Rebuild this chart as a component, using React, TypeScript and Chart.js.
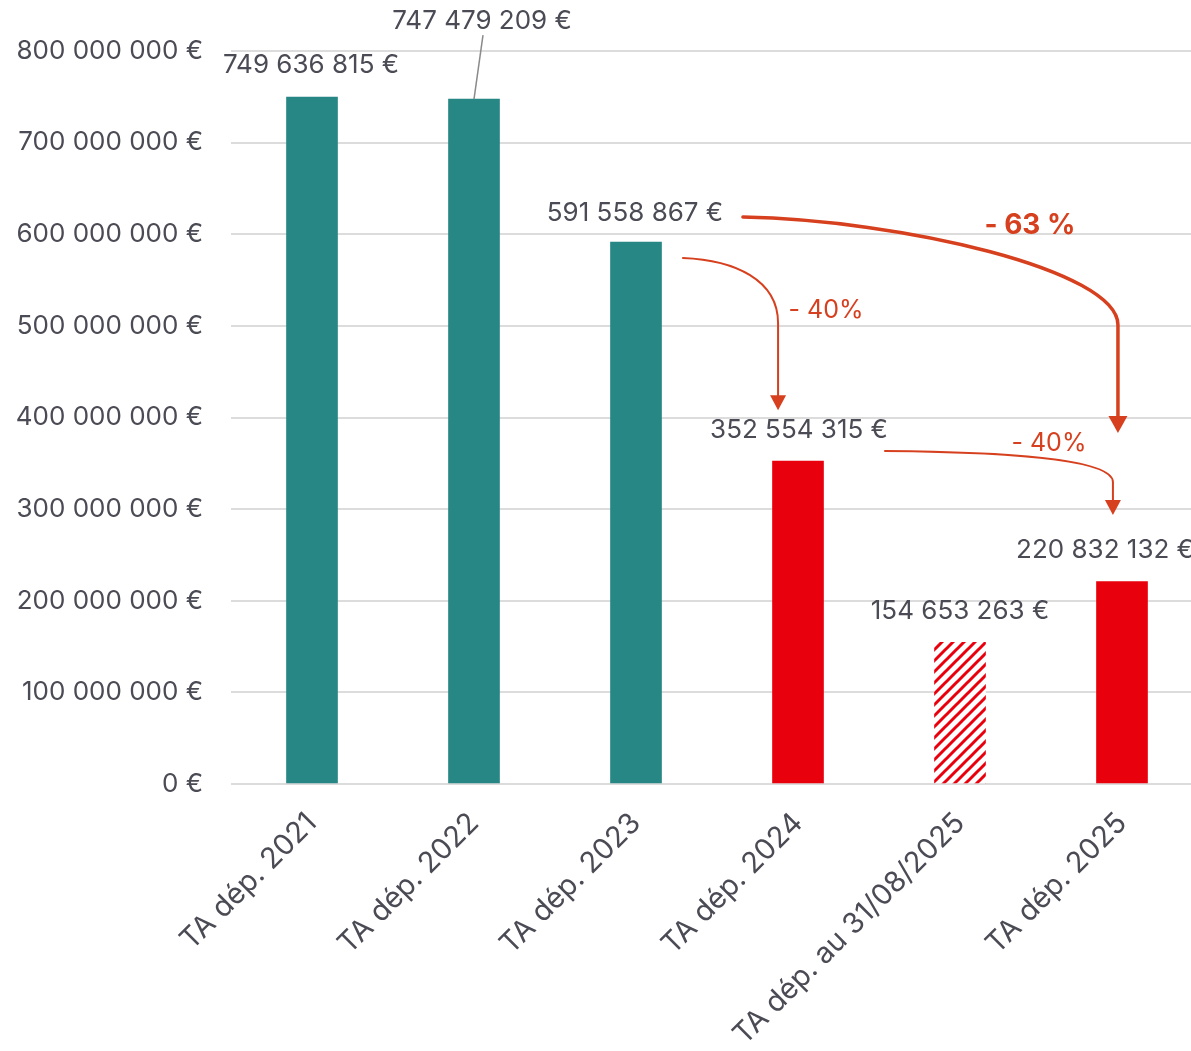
import React, { useEffect, useRef } from 'react';
import { Chart, registerables } from 'chart.js';

Chart.register(...registerables);

// ---------- data ----------
const categories = [
  'TA dép. 2021',
  'TA dép. 2022',
  'TA dép. 2023',
  'TA dép. 2024',
  'TA dép. au 31/08/2025',
  'TA dép. 2025',
];
const values = [749636815, 747479209, 591558867, 352554315, 154653263, 220832132];
const barKinds = ['teal', 'teal', 'teal', 'red', 'hatched', 'red'];
const yMin = 0;
const yMax = 800000000;
const yStep = 100000000;
const changeLabels = ['- 40%', '- 63 %', '- 40%'];

// ---------- styling / annotation config ----------
const FONT = 'Inter, "Liberation Sans", Arial, sans-serif';
const TEXT = '#4b4b55';
const TEAL = '#278784';
const RED = '#E8000D';
const ARROW = '#D6401E';
const GRID = '#dcdcdc';

// label offsets in px relative to (bar centre, bar top)
const labelOffsets = [
  [-1, -32],
  [8, -78],
  [-1, -29],
  [1, -31],
  [0, -31],
  [-17, -31],
];

// arrows expressed in (category index, value) coordinates
const arrows = [
  {
    from: [2.29, 574.1e6], c1: [2.611, 571.9e6], c2: [2.877, 550e6], to: [2.877, 503e6],
    tip: 408e6, lw: 2, hw: 16, hh: 15, text: changeLabels[0], at: [3.173, 517e6], bold: false, size: 25,
  },
  {
    from: [2.66, 618.8e6], c1: [3.63, 615.6e6], c2: [4.975, 561e6], to: [4.975, 501e6],
    tip: 383e6, lw: 3.5, hw: 19, hh: 17, text: changeLabels[1], at: [4.432, 610e6], bold: true, size: 28,
  },
  {
    from: [3.537, 363.4e6], c1: [4.247, 362.3e6], c2: [4.944, 355.8e6], to: [4.944, 329.6e6],
    tip: 293.6e6, lw: 2, hw: 16, hh: 15, text: changeLabels[2], at: [4.549, 372e6], bold: false, size: 25,
  },
];

const fmt = (v: number) => String(Math.round(v)).replace(/\B(?=(\d{3})+(?!\d))/g, ' ') + ' €';

function makeHatch(): CanvasPattern | string {
  const s = 11;
  const c = document.createElement('canvas');
  c.width = s;
  c.height = s;
  const g = c.getContext('2d');
  if (!g) return RED;
  g.fillStyle = '#ffffff';
  g.fillRect(0, 0, s, s);
  g.strokeStyle = RED;
  g.lineWidth = 3;
  g.beginPath();
  g.moveTo(0, s);
  g.lineTo(s, 0);
  g.moveTo(-2, 2);
  g.lineTo(2, -2);
  g.moveTo(s - 2, s + 2);
  g.lineTo(s + 2, s - 2);
  g.stroke();
  return g.createPattern(c, 'repeat') || RED;
}

const overlayPlugin = {
  id: 'overlay',
  afterDatasetsDraw(chart: any) {
    const ctx: CanvasRenderingContext2D = chart.ctx;
    const xs = chart.scales.x;
    const ys = chart.scales.y;
    const meta = chart.getDatasetMeta(0);
    ctx.save();
    // value labels
    ctx.font = `26px ${FONT}`;
    ctx.fillStyle = TEXT;
    ctx.textAlign = 'center';
    ctx.textBaseline = 'middle';
    meta.data.forEach((bar: any, i: number) => {
      const [dx, dy] = labelOffsets[i];
      const lx = bar.x + dx;
      const ly = bar.y + dy;
      ctx.fillText(fmt(values[i]), lx, ly);
      if (i === 1) {
        ctx.save();
        ctx.strokeStyle = '#8a8a8a';
        ctx.lineWidth = 1.5;
        ctx.beginPath();
        ctx.moveTo(lx + 1, ly + 14);
        ctx.lineTo(bar.x, bar.y);
        ctx.stroke();
        ctx.restore();
      }
    });
    // arrows
    const P = (p: number[]) => [xs.getPixelForValue(p[0]), ys.getPixelForValue(p[1])];
    arrows.forEach((a) => {
      const [x0, y0] = P(a.from);
      const [x1, y1] = P(a.c1);
      const [x2, y2] = P(a.c2);
      const [x3, y3] = P(a.to);
      const tipY = ys.getPixelForValue(a.tip);
      ctx.strokeStyle = ARROW;
      ctx.fillStyle = ARROW;
      ctx.lineWidth = a.lw;
      ctx.lineCap = 'round';
      ctx.beginPath();
      ctx.moveTo(x0, y0);
      ctx.bezierCurveTo(x1, y1, x2, y2, x3, y3);
      ctx.lineTo(x3, tipY - a.hh + 2);
      ctx.stroke();
      ctx.beginPath();
      ctx.moveTo(x3 - a.hw / 2, tipY - a.hh);
      ctx.lineTo(x3 + a.hw / 2, tipY - a.hh);
      ctx.lineTo(x3, tipY);
      ctx.closePath();
      ctx.fill();
      const [tx, ty] = P(a.at);
      ctx.font = `${a.bold ? 'bold ' : ''}${a.size}px ${FONT}`;
      ctx.textAlign = 'center';
      ctx.textBaseline = 'middle';
      ctx.fillText(a.text, tx, ty);
    });
    ctx.restore();
  },
};

export default function App() {
  const ref = useRef<HTMLCanvasElement | null>(null);
  useEffect(() => {
    if (!ref.current) return;
    const hatch = makeHatch();
    const colors = barKinds.map((k) => (k === 'teal' ? TEAL : k === 'red' ? RED : hatch));
    const chart = new Chart(ref.current, {
      type: 'bar',
      data: {
        labels: categories,
        datasets: [
          {
            data: values,
            backgroundColor: colors as any,
            borderWidth: 0,
            barThickness: 51,
          },
        ],
      },
      options: {
        animation: false,
        responsive: false,
        maintainAspectRatio: false,
        layout: { padding: { top: 51, right: 0, bottom: 0, left: 0 } },
        plugins: {
          legend: { display: false },
          tooltip: { enabled: false },
        },
        scales: {
          x: {
            grid: { display: false, drawTicks: false },
            border: { display: false },
            ticks: {
              autoSkip: false,
              minRotation: 45,
              maxRotation: 45,
              padding: 22,
              color: TEXT,
              font: { family: FONT, size: 29 },
            },
            afterFit: (s: any) => {
              s.height = 267;
              s.paddingLeft = 0;
              s.paddingRight = 0;
            },
          },
          y: {
            min: yMin,
            max: yMax,
            grid: { color: GRID, lineWidth: 2, drawTicks: false },
            border: { display: false },
            ticks: {
              stepSize: yStep,
              padding: 28,
              color: TEXT,
              font: { family: FONT, size: 26 },
              callback: (v: any) => fmt(Number(v)),
            },
            afterFit: (s: any) => {
              s.width = 231;
              s.paddingTop = 0;
              s.paddingBottom = 0;
            },
          },
        },
      },
      plugins: [overlayPlugin],
    });
    return () => chart.destroy();
  }, []);
  return (
    <div
      style={{
        position: 'fixed',
        left: 0,
        top: 0,
        width: 1191,
        height: 1051,
        overflow: 'hidden',
        background: '#ffffff',
      }}
    >
      <canvas ref={ref} width={1203} height={1051} style={{ width: 1203, height: 1051, display: 'block' }} />
    </div>
  );
}
